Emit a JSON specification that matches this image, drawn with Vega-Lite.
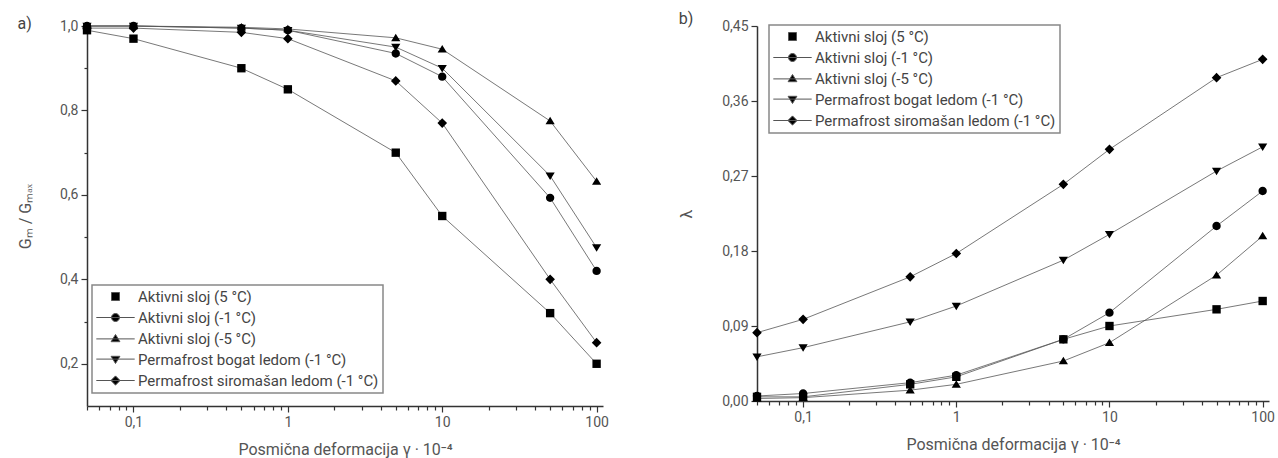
{
  "$schema": "https://vega.github.io/schema/vega-lite/v6.json",
  "padding": {"left": 17, "top": 11, "right": 4, "bottom": 2},
  "spacing": 61,
  "config": {
    "font": "Roboto",
    "view": {"stroke": null},
    "axis": {
      "grid": false,
      "domainColor": "#333",
      "domainWidth": 1.5,
      "tickColor": "#333",
      "tickWidth": 1.2,
      "labelColor": "#555",
      "labelFont": "Roboto",
      "labelFontSize": 14,
      "titleFont": "Roboto",
      "titleFontSize": 16,
      "titleFontWeight": "normal",
      "titleColor": "#555",
      "labelPadding": 3
    },
    "legend": {
      "labelFont": "Roboto",
      "labelFontSize": 15,
      "labelColor": "#444",
      "strokeColor": "#888",
      "strokeWidth": 1.5,
      "padding": 4,
      "rowPadding": 5,
      "symbolOffset": 12,
      "labelOffset": 15,
      "symbolSize": 64,
      "symbolStrokeWidth": 1,
      "labelLimit": 400
    },
    "title": {"font": "Roboto", "fontSize": 16, "fontWeight": "normal", "color": "#444"}
  },
  "resolve": {"scale": {"x": "independent", "y": "independent", "shape": "independent"}, "legend": {"shape": "independent"}},
  "datasets": {
    "g": [
      {"s": "Aktivni sloj (5 °C)", "x": 0.05, "y": 0.99},
      {"s": "Aktivni sloj (5 °C)", "x": 0.1, "y": 0.97},
      {"s": "Aktivni sloj (5 °C)", "x": 0.5, "y": 0.90},
      {"s": "Aktivni sloj (5 °C)", "x": 1, "y": 0.85},
      {"s": "Aktivni sloj (5 °C)", "x": 5, "y": 0.70},
      {"s": "Aktivni sloj (5 °C)", "x": 10, "y": 0.55},
      {"s": "Aktivni sloj (5 °C)", "x": 50, "y": 0.32},
      {"s": "Aktivni sloj (5 °C)", "x": 100, "y": 0.20},
      {"s": "Aktivni sloj (-1 °C)", "x": 0.05, "y": 1.0},
      {"s": "Aktivni sloj (-1 °C)", "x": 0.1, "y": 1.0},
      {"s": "Aktivni sloj (-1 °C)", "x": 0.5, "y": 0.995},
      {"s": "Aktivni sloj (-1 °C)", "x": 1, "y": 0.99},
      {"s": "Aktivni sloj (-1 °C)", "x": 5, "y": 0.935},
      {"s": "Aktivni sloj (-1 °C)", "x": 10, "y": 0.88},
      {"s": "Aktivni sloj (-1 °C)", "x": 50, "y": 0.593},
      {"s": "Aktivni sloj (-1 °C)", "x": 100, "y": 0.42},
      {"s": "Aktivni sloj (-5 °C)", "x": 0.05, "y": 1.0},
      {"s": "Aktivni sloj (-5 °C)", "x": 0.1, "y": 1.0},
      {"s": "Aktivni sloj (-5 °C)", "x": 0.5, "y": 0.997},
      {"s": "Aktivni sloj (-5 °C)", "x": 1, "y": 0.993},
      {"s": "Aktivni sloj (-5 °C)", "x": 5, "y": 0.972},
      {"s": "Aktivni sloj (-5 °C)", "x": 10, "y": 0.945},
      {"s": "Aktivni sloj (-5 °C)", "x": 50, "y": 0.775},
      {"s": "Aktivni sloj (-5 °C)", "x": 100, "y": 0.632},
      {"s": "Permafrost bogat ledom (-1 °C)", "x": 0.05, "y": 1.0},
      {"s": "Permafrost bogat ledom (-1 °C)", "x": 0.1, "y": 1.0},
      {"s": "Permafrost bogat ledom (-1 °C)", "x": 0.5, "y": 0.995},
      {"s": "Permafrost bogat ledom (-1 °C)", "x": 1, "y": 0.99},
      {"s": "Permafrost bogat ledom (-1 °C)", "x": 5, "y": 0.95},
      {"s": "Permafrost bogat ledom (-1 °C)", "x": 10, "y": 0.90},
      {"s": "Permafrost bogat ledom (-1 °C)", "x": 50, "y": 0.645},
      {"s": "Permafrost bogat ledom (-1 °C)", "x": 100, "y": 0.475},
      {"s": "Permafrost siromašan ledom (-1 °C)", "x": 0.05, "y": 0.995},
      {"s": "Permafrost siromašan ledom (-1 °C)", "x": 0.1, "y": 0.995},
      {"s": "Permafrost siromašan ledom (-1 °C)", "x": 0.5, "y": 0.985},
      {"s": "Permafrost siromašan ledom (-1 °C)", "x": 1, "y": 0.97},
      {"s": "Permafrost siromašan ledom (-1 °C)", "x": 5, "y": 0.87},
      {"s": "Permafrost siromašan ledom (-1 °C)", "x": 10, "y": 0.77},
      {"s": "Permafrost siromašan ledom (-1 °C)", "x": 50, "y": 0.40},
      {"s": "Permafrost siromašan ledom (-1 °C)", "x": 100, "y": 0.25}
    ],
    "l": [
      {"s": "Aktivni sloj (5 °C)", "x": 0.05, "y": 0.005},
      {"s": "Aktivni sloj (5 °C)", "x": 0.1, "y": 0.005},
      {"s": "Aktivni sloj (5 °C)", "x": 0.5, "y": 0.02},
      {"s": "Aktivni sloj (5 °C)", "x": 1, "y": 0.029},
      {"s": "Aktivni sloj (5 °C)", "x": 5, "y": 0.074},
      {"s": "Aktivni sloj (5 °C)", "x": 10, "y": 0.09},
      {"s": "Aktivni sloj (5 °C)", "x": 50, "y": 0.11},
      {"s": "Aktivni sloj (5 °C)", "x": 100, "y": 0.12},
      {"s": "Aktivni sloj (-1 °C)", "x": 0.05, "y": 0.006},
      {"s": "Aktivni sloj (-1 °C)", "x": 0.1, "y": 0.009},
      {"s": "Aktivni sloj (-1 °C)", "x": 0.5, "y": 0.022},
      {"s": "Aktivni sloj (-1 °C)", "x": 1, "y": 0.031},
      {"s": "Aktivni sloj (-1 °C)", "x": 5, "y": 0.074},
      {"s": "Aktivni sloj (-1 °C)", "x": 10, "y": 0.106},
      {"s": "Aktivni sloj (-1 °C)", "x": 50, "y": 0.21},
      {"s": "Aktivni sloj (-1 °C)", "x": 100, "y": 0.252},
      {"s": "Aktivni sloj (-5 °C)", "x": 0.05, "y": 0.003},
      {"s": "Aktivni sloj (-5 °C)", "x": 0.1, "y": 0.004},
      {"s": "Aktivni sloj (-5 °C)", "x": 0.5, "y": 0.013},
      {"s": "Aktivni sloj (-5 °C)", "x": 1, "y": 0.02},
      {"s": "Aktivni sloj (-5 °C)", "x": 5, "y": 0.048},
      {"s": "Aktivni sloj (-5 °C)", "x": 10, "y": 0.07},
      {"s": "Aktivni sloj (-5 °C)", "x": 50, "y": 0.151},
      {"s": "Aktivni sloj (-5 °C)", "x": 100, "y": 0.198},
      {"s": "Permafrost bogat ledom (-1 °C)", "x": 0.05, "y": 0.053},
      {"s": "Permafrost bogat ledom (-1 °C)", "x": 0.1, "y": 0.064},
      {"s": "Permafrost bogat ledom (-1 °C)", "x": 0.5, "y": 0.095},
      {"s": "Permafrost bogat ledom (-1 °C)", "x": 1, "y": 0.114},
      {"s": "Permafrost bogat ledom (-1 °C)", "x": 5, "y": 0.169},
      {"s": "Permafrost bogat ledom (-1 °C)", "x": 10, "y": 0.2},
      {"s": "Permafrost bogat ledom (-1 °C)", "x": 50, "y": 0.276},
      {"s": "Permafrost bogat ledom (-1 °C)", "x": 100, "y": 0.305},
      {"s": "Permafrost siromašan ledom (-1 °C)", "x": 0.05, "y": 0.082},
      {"s": "Permafrost siromašan ledom (-1 °C)", "x": 0.1, "y": 0.098},
      {"s": "Permafrost siromašan ledom (-1 °C)", "x": 0.5, "y": 0.149},
      {"s": "Permafrost siromašan ledom (-1 °C)", "x": 1, "y": 0.177},
      {"s": "Permafrost siromašan ledom (-1 °C)", "x": 5, "y": 0.26},
      {"s": "Permafrost siromašan ledom (-1 °C)", "x": 10, "y": 0.302},
      {"s": "Permafrost siromašan ledom (-1 °C)", "x": 50, "y": 0.388},
      {"s": "Permafrost siromašan ledom (-1 °C)", "x": 100, "y": 0.41}
    ]
  },
  "hconcat": [
    {
      "width": 516,
      "height": 380,
      "title": {"text": "a)", "anchor": "start", "frame": "bounds", "offset": 0, "dy": 13},
      "data": {"name": "g"},
      "layer": [
        {
          "mark": {"type": "line", "color": "#555", "strokeWidth": 0.8},
          "encoding": {
            "x": {"field": "x", "type": "quantitative", "scale": {"type": "log", "domain": [0.05, 110], "nice": false},
              "axis": {"title": "Posmična deformacija γ · 10⁻⁴", "titlePadding": 12,
                "values": [0.05,0.06,0.07,0.08,0.09,0.1,0.2,0.3,0.4,0.5,0.6,0.7,0.8,0.9,1,2,3,4,5,6,7,8,9,10,20,30,40,50,60,70,80,90,100],
                "labelExpr": "datum.value==0.1 ? '0,1' : (datum.value==1||datum.value==10||datum.value==100 ? datum.value+'' : '')",
                "tickSize": {"condition": {"test": "datum.value==0.1||datum.value==1||datum.value==10||datum.value==100", "value": 6}, "value": 4}}},
            "y": {"field": "y", "type": "quantitative", "scale": {"domain": [0.1, 1.0], "nice": false, "zero": false},
              "axis": {"title": "G\u2098  /  G\u2098\u2090\u2093", "titlePadding": 26,
                "values": [0.2,0.3,0.4,0.5,0.6,0.7,0.8,0.9,1.0],
                "labelExpr": "round(datum.value*10)%2==0 ? replace(format(datum.value,'.1f'),'.',',') : ''",
                "tickSize": {"condition": {"test": "round(datum.value*10)%2==0", "value": 6}, "value": 3}}},
            "detail": {"field": "s"}
          }
        },
        {
          "mark": {"type": "point", "filled": true, "fill": "black", "stroke": "#555", "strokeWidth": 0, "opacity": 1, "size": 70},
          "encoding": {
            "x": {"field": "x", "type": "quantitative"},
            "y": {"field": "y", "type": "quantitative"},
            "shape": {"field": "s", "type": "nominal",
              "scale": {"domain": ["Aktivni sloj (5 °C)", "Aktivni sloj (-1 °C)", "Aktivni sloj (-5 °C)", "Permafrost bogat ledom (-1 °C)", "Permafrost siromašan ledom (-1 °C)"],
                "range": ["M-1,-1H1V1H-1Z", "M-4.8,0H4.8M-1,0A1,1,0,1,1,1,0A1,1,0,1,1,-1,0Z", "M-4.8,0.1H4.8M-1.1,0.8L0,-1L1.1,0.8Z", "M-4.8,-0.1H4.8M-1.1,-0.8L0,1L1.1,-0.8Z", "M-4.8,0H4.8M-1.15,0L0,-1.15L1.15,0L0,1.15Z"]},
              "legend": {"title": null, "orient": "none", "legendX": 5, "legendY": 259, "symbolStrokeWidth": 1}}
          }
        }
      ]
    },
    {
      "width": 512,
      "height": 375,
      "title": {"text": "b)", "anchor": "start", "frame": "bounds", "offset": 12, "dy": 20},
      "data": {"name": "l"},
      "layer": [
        {
          "mark": {"type": "line", "color": "#555", "strokeWidth": 0.8},
          "encoding": {
            "x": {"field": "x", "type": "quantitative", "scale": {"type": "log", "domain": [0.05, 110], "nice": false},
              "axis": {"title": "Posmična deformacija γ · 10⁻⁴", "titlePadding": 12,
                "values": [0.05,0.06,0.07,0.08,0.09,0.1,0.2,0.3,0.4,0.5,0.6,0.7,0.8,0.9,1,2,3,4,5,6,7,8,9,10,20,30,40,50,60,70,80,90,100],
                "labelExpr": "datum.value==0.1 ? '0,1' : (datum.value==1||datum.value==10||datum.value==100 ? datum.value+'' : '')",
                "tickSize": {"condition": {"test": "datum.value==0.1||datum.value==1||datum.value==10||datum.value==100", "value": 6}, "value": 4}}},
            "y": {"field": "y", "type": "quantitative", "scale": {"domain": [0, 0.45], "nice": false},
              "axis": {"title": "λ", "titlePadding": 27,
                "values": [0,0.045,0.09,0.135,0.18,0.225,0.27,0.315,0.36,0.405,0.45],
                "labelExpr": "round(datum.value/0.045)%2==0 ? replace(format(datum.value,'.2f'),'.',',') : ''",
                "tickSize": {"condition": {"test": "round(datum.value/0.045)%2==0", "value": 6}, "value": 3}}},
            "detail": {"field": "s"}
          }
        },
        {
          "mark": {"type": "point", "filled": true, "fill": "black", "stroke": "#555", "strokeWidth": 0, "opacity": 1, "size": 70},
          "encoding": {
            "x": {"field": "x", "type": "quantitative"},
            "y": {"field": "y", "type": "quantitative"},
            "shape": {"field": "s", "type": "nominal",
              "scale": {"domain": ["Aktivni sloj (5 °C)", "Aktivni sloj (-1 °C)", "Aktivni sloj (-5 °C)", "Permafrost bogat ledom (-1 °C)", "Permafrost siromašan ledom (-1 °C)"],
                "range": ["M-1,-1H1V1H-1Z", "M-4.8,0H4.8M-1,0A1,1,0,1,1,1,0A1,1,0,1,1,-1,0Z", "M-4.8,0.1H4.8M-1.1,0.8L0,-1L1.1,0.8Z", "M-4.8,-0.1H4.8M-1.1,-0.8L0,1L1.1,-0.8Z", "M-4.8,0H4.8M-1.15,0L0,-1.15L1.15,0L0,1.15Z"]},
              "legend": {"title": null, "orient": "none", "legendX": 12, "legendY": -1, "symbolStrokeWidth": 1}}
          }
        }
      ]
    }
  ]
}
